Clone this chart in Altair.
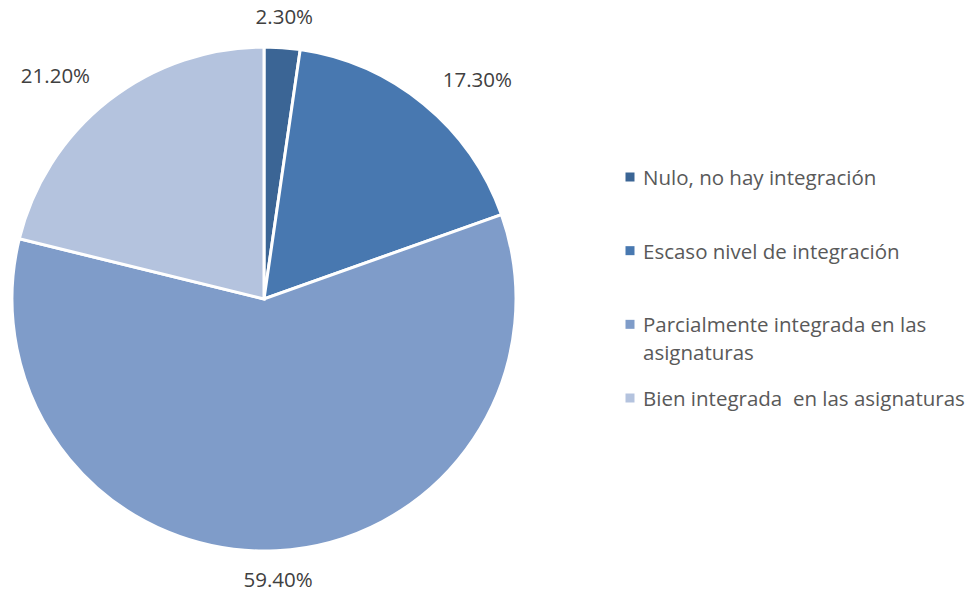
import altair as alt
import pandas as pd

categories = [
    "Nulo, no hay integración",
    "Escaso nivel de integración",
    "Parcialmente integrada en las asignaturas",
    "Bien integrada  en las asignaturas",
]
values = [2.3, 17.3, 59.4, 21.2]
colors = ["#3b6595", "#4878b0", "#7f9cc9", "#b4c3de"]

df = pd.DataFrame({"cat": categories, "v": values, "idx": list(range(len(categories)))})

W, H = 972, 596
CX, CY, R = 264, 299, 252
LR = 282
FONT = "Open Sans"
FS = 20.5

color = alt.Color("cat:N", scale=alt.Scale(domain=categories, range=colors), legend=None)
base = alt.Chart(df)

pie = base.mark_arc(radius=R, stroke="white", strokeWidth=3).encode(
    theta=alt.Theta("v:Q", stack=True),
    order=alt.Order("idx:Q"),
    color=color,
    x=alt.value(CX),
    y=alt.value(CY),
)


def labels(cond, align):
    return (
        base.transform_window(cum="sum(v)", sort=[alt.SortField("idx")], frame=[None, 0])
        .transform_joinaggregate(tot="sum(v)")
        .transform_calculate(mid="datum.cum - datum.v/2")
        .transform_calculate(frac="datum.mid / datum.tot", lab="format(datum.v/100, '.2%')")
        .transform_filter(cond)
        .mark_text(radius=LR, align=align, baseline="middle", font=FONT, fontSize=FS, color="#404040")
        .encode(
            theta=alt.Theta("mid:Q", stack=False),
            text="lab:N",
            x=alt.value(CX),
            y=alt.value(CY),
        )
    )


lab_c = labels("datum.frac < 0.05 || datum.frac > 0.95 || (datum.frac > 0.45 && datum.frac < 0.55)", "center")
lab_l = labels("datum.frac >= 0.05 && datum.frac <= 0.45", "left")
lab_r = labels("datum.frac >= 0.55 && datum.frac <= 0.95", "right")

ly = alt.Y("idx:Q", scale=alt.Scale(domain=[0, 3], range=[177, 398]), axis=None)

leg_sq = base.mark_square(size=81, opacity=1).encode(
    x=alt.value(630), y=ly, color=color
)
leg_tx = (
    base.transform_calculate(
        disp="length(datum.cat) > 36 ? replace(datum.cat, 'en las asignaturas', 'en las|asignaturas') : replace(datum.cat, '  ', '\u00a0 ')"
    )
    .mark_text(align="left", baseline="top", dy=-8, font=FONT, fontSize=FS,
               color="#595959", lineBreak="|", lineHeight=28)
    .encode(x=alt.value(643), y=ly, text="disp:N")
)

chart = (
    alt.layer(pie, lab_c, lab_l, lab_r, leg_sq, leg_tx)
    .properties(width=W, height=H, autosize=alt.AutoSizeParams(type="none"), padding=0)
    .configure_view(stroke=None)
)

chart.save("out.html", embed_options={"renderer": "svg", "actions": False})
